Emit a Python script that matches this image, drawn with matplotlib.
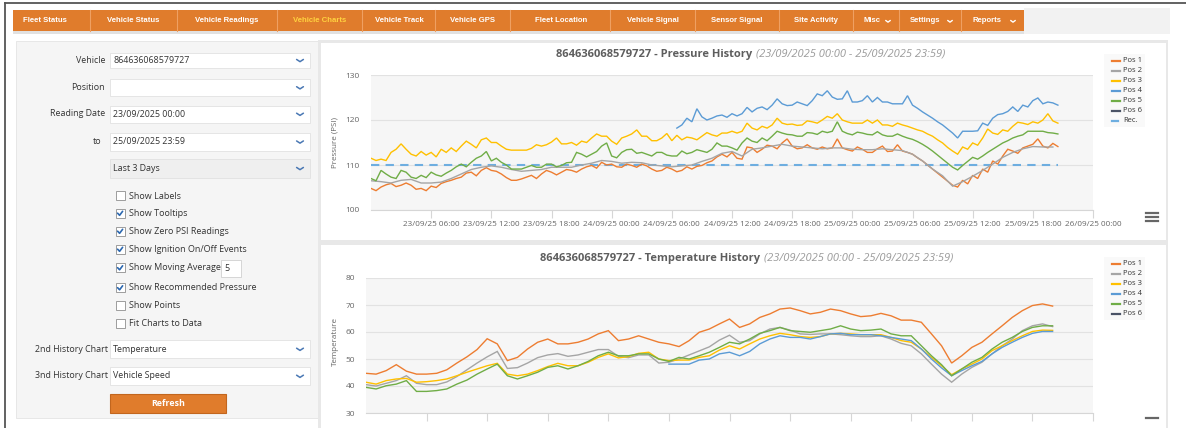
import numpy as np
import matplotlib
matplotlib.use("Agg")
import matplotlib.pyplot as plt
from matplotlib.patches import Rectangle

# ---------------- DATA ----------------
VEHICLE_ID = "864636068579727"
DATE_RANGE = "(23/09/2025 00:00 - 25/09/2025 23:59)"
SERIES_NAMES = ["Pos 1", "Pos 2", "Pos 3", "Pos 4", "Pos 5", "Pos 6"]
SERIES_COLORS = ["#ED7D31", "#A5A5A5", "#FFC000", "#5B9BD5", "#70AD47", "#4A5366"]
REC_NAME = "Rec."
REC_COLOR = "#6EAEE0"
REC_PRESSURE = 110

TICK_HOURS = [6, 12, 18, 24, 30, 36, 42, 48, 54, 60, 66, 72]
TICK_LABELS = ["23/09/25 06:00", "23/09/25 12:00", "23/09/25 18:00", "24/09/25 00:00",
               "24/09/25 06:00", "24/09/25 12:00", "24/09/25 18:00", "25/09/25 00:00",
               "25/09/25 06:00", "25/09/25 12:00", "25/09/25 18:00", "26/09/25 00:00"]

# Pressure (PSI), half-hourly readings starting 23/09 00:00 unless noted
P_POS1 = [104.8,104.3,105.1,105.6,105.9,105.2,105.5,106.0,105.5,104.6,
          104.8,104.3,105.3,105.0,105.9,106.3,106.6,107.0,107.3,108.2,
          108.4,107.6,108.8,109.4,108.8,108.6,108.0,107.2,106.6,106.6,
          106.9,107.3,107.7,107.0,108.0,108.8,108.4,107.8,108.4,109.0,
          108.8,108.4,109.1,109.6,109.9,109.3,110.6,110.0,110.2,109.6,
          109.5,110.2,109.9,109.5,110.2,109.8,109.1,108.6,108.8,109.5,
          109.1,108.5,108.8,109.6,109.1,109.7,109.9,110.5,110.9,111.8,
          112.4,111.8,112.8,111.5,111.3,114.0,113.8,112.8,113.5,114.4,
          114.2,113.6,114.9,115.8,114.2,113.6,113.8,114.5,113.8,113.5,
          114.0,113.6,113.8,115.8,113.8,113.4,113.1,114.0,113.5,112.8,
          112.8,113.6,114.2,113.0,113.1,114.5,113.1,112.8,112.4,111.6,
          110.9,110.0,109.1,108.2,107.3,106.4,105.5,105.1,106.6,105.8,
          107.7,107.0,109.1,108.4,110.9,110.2,112.0,113.5,113.1,112.6,
          113.8,114.2,114.6,115.8,114.2,113.8,114.8,114.1]
# Pos 2 hourly
P_POS2 = [106.5,106.3,106.0,106.6,106.8,106.0,106.0,106.2,107.0,108.0,
          109.0,109.5,109.8,109.5,109.0,108.6,108.8,109.0,109.5,109.5,
          109.5,110.0,110.4,111.0,110.8,110.4,110.6,110.5,110.0,109.8,
          109.6,109.8,110.0,110.8,111.5,112.6,113.0,112.0,113.5,113.8,
          114.2,114.6,114.2,114.0,113.8,113.6,113.8,113.8,113.5,113.4,
          113.4,113.6,113.4,113.2,112.4,110.9,109.1,107.6,105.3,106.3,
          107.5,108.8,110.2,111.7,112.8,113.6,114.1,114.0,114.0]
P_POS3 = [111.5,111.0,111.3,111.0,112.8,113.5,114.7,113.5,112.4,112.0,
          113.0,112.2,112.8,111.8,113.5,112.8,113.8,113.0,114.2,115.3,
          114.6,113.8,115.6,116.0,115.0,115.0,114.2,113.5,113.3,113.3,
          113.3,113.3,113.7,114.5,114.2,114.5,115.1,116.0,114.7,114.7,
          115.0,114.4,115.3,115.0,116.0,116.9,116.4,116.4,115.3,114.6,
          116.0,116.4,116.9,117.8,116.4,116.4,115.4,115.4,116.0,117.0,
          115.4,116.6,115.6,116.2,116.0,115.6,116.4,117.2,116.7,116.4,
          117.1,117.1,117.5,117.1,117.5,119.3,118.2,117.8,118.6,118.2,
          118.9,120.4,119.3,119.0,119.1,118.8,118.9,119.8,119.6,119.3,
          120.0,120.8,120.4,121.4,120.0,119.6,119.3,119.3,119.3,120.0,
          119.3,120.0,118.9,118.9,118.6,119.3,118.9,118.6,118.2,117.8,
          117.5,116.9,116.4,115.6,114.9,113.9,113.1,112.4,114.0,113.5,
          114.9,114.4,116.0,118.0,117.1,116.8,117.8,117.5,118.6,119.5,
          119.3,119.0,119.6,119.3,120.0,121.4,119.8,119.3]
# Pos 4 half-hourly starting 24/09 06:30
P_POS4_START = 30.5
P_POS4 = [118.2,
          118.9,120.4,119.6,122.5,120.7,120.0,120.4,120.9,121.1,120.6,
          121.4,120.9,121.4,122.8,121.8,122.6,122.9,122.3,123.3,124.7,
          123.6,123.2,123.3,124.0,123.6,123.2,124.3,125.8,125.4,126.5,
          125.1,124.6,124.7,126.5,124.0,124.0,124.3,125.4,124.0,125.0,
          124.0,124.0,123.6,123.6,123.6,125.4,123.3,122.6,121.8,121.1,
          120.4,119.6,118.9,118.0,117.1,116.0,117.5,117.5,117.5,117.6,
          119.3,118.8,120.4,121.2,121.4,121.9,122.9,121.9,123.3,122.9,
          124.3,124.9,123.6,124.0,123.8,123.3]
P_POS5 = [107.0,106.5,108.8,108.0,107.3,107.0,108.8,108.4,107.3,107.0,
          107.7,107.2,108.4,107.8,107.5,108.2,108.8,109.6,110.2,109.6,
          110.6,111.5,112.0,113.0,110.9,111.5,110.6,110.0,109.1,109.1,
          109.1,109.5,109.9,109.5,109.5,110.2,110.2,109.6,109.9,110.5,
          110.6,112.8,112.4,111.8,112.4,113.0,114.2,114.9,112.0,111.6,
          112.8,113.4,113.5,112.6,112.8,112.4,112.0,112.8,112.8,112.2,
          112.0,112.0,113.1,112.5,112.8,113.4,113.1,112.8,113.5,114.9,
          114.2,114.2,113.8,113.3,114.9,116.0,115.3,115.0,116.0,115.4,
          116.4,117.5,117.1,116.8,116.7,116.4,116.4,117.2,117.1,116.8,
          117.5,117.2,117.5,119.6,117.5,117.0,116.7,117.3,117.1,116.8,
          116.7,117.4,116.7,116.4,116.4,116.9,116.4,116.0,115.7,115.2,
          114.6,113.9,113.1,112.2,111.3,110.4,109.5,108.9,109.9,110.8,
          111.7,111.3,112.0,112.8,113.5,114.2,114.9,115.4,116.0,116.4,
          116.7,117.5,117.5,117.5,117.5,117.2,117.1,116.9]
P_POS6 = []

# Temperature, hourly readings starting 23/09 00:00 unless noted
T_POS1 = [44.7,44.4,45.7,47.9,45.5,44.4,44.4,44.7,46.0,48.5,
          50.8,53.5,57.5,55.6,49.4,50.6,53.7,56.2,57.4,55.6,
          55.6,56.2,57.4,59.3,60.5,56.8,57.4,58.6,57.4,56.2,
          55.6,54.6,56.8,59.9,61.1,63.0,64.8,61.7,63.0,65.4,
          66.7,68.5,68.9,67.9,66.7,67.3,68.5,67.9,66.7,65.7,
          66.0,66.9,66.0,64.4,64.4,63.6,59.3,54.9,48.5,51.2,
          54.3,56.2,59.3,62.3,65.4,67.9,69.8,70.4,69.6]
T_POS2 = [40.5,40.0,41.0,42.0,43.8,41.0,40.5,40.5,41.5,43.5,
          46.0,48.5,50.8,52.8,46.5,46.8,48.5,50.5,51.5,52.0,
          51.0,51.5,52.5,53.5,53.5,51.0,50.5,51.5,51.5,48.5,
          48.8,50.0,51.5,53.0,54.5,57.0,58.8,56.2,56.8,59.3,
          61.1,61.7,60.7,59.3,59.1,59.3,59.3,59.0,58.6,58.3,
          58.3,58.6,57.4,55.8,54.9,51.9,48.1,44.4,41.4,44.4,
          46.9,48.8,51.9,54.9,57.4,60.5,62.3,63.0,62.0]
T_POS3 = [41.4,40.7,42.0,42.6,42.8,41.4,41.6,42.0,42.6,43.8,
          45.1,46.3,47.5,48.4,44.4,43.8,44.4,45.7,47.2,48.4,
          47.5,47.5,48.8,50.6,51.9,50.4,50.9,52.1,52.5,50.0,
          49.4,49.6,49.6,50.6,51.2,53.3,54.9,53.7,55.6,57.4,
          58.6,59.5,59.0,58.3,58.0,58.3,59.3,59.5,59.3,59.0,
          59.0,59.0,58.0,56.8,56.2,53.7,50.6,47.5,44.2,46.3,
          48.1,50.0,53.1,54.9,56.8,58.6,60.2,60.7,60.6]
T_POS4_START = 30
T_POS4 = [48.1,48.1,48.1,49.6,50.0,51.9,52.5,51.2,52.8,55.6,
          57.4,58.6,58.0,58.0,57.4,58.3,59.3,59.5,59.0,59.0,
          59.0,58.6,58.0,57.4,56.8,53.7,50.0,46.7,43.8,45.7,
          47.5,49.1,51.9,54.3,56.2,58.0,59.5,60.2,60.2]
T_POS5 = [39.5,38.9,40.1,40.7,42.0,38.0,38.0,38.3,38.9,40.7,
          42.2,44.4,46.3,48.1,43.8,42.6,43.8,45.1,46.9,47.5,
          46.3,47.5,49.1,51.2,52.5,51.2,51.2,51.9,51.9,50.0,
          49.1,50.6,50.0,51.2,52.5,54.3,56.2,55.6,57.4,59.5,
          60.5,61.7,60.5,60.2,59.9,60.5,61.1,62.3,61.1,60.5,
          60.7,61.1,59.3,58.6,58.6,54.9,51.2,47.9,43.8,46.3,
          48.8,50.6,53.7,56.2,58.0,60.2,61.7,62.3,62.3]
T_POS6 = []

# (values, start hour, step hours)
PRESSURE_SERIES = [(P_POS1, 0, 0.5), (P_POS2, 0, 1.0), (P_POS3, 0, 0.5),
                   (P_POS4, P_POS4_START, 0.5), (P_POS5, 0, 0.5), (P_POS6, 0, 0.5)]
TEMP_SERIES = [(T_POS1, 0, 1.0), (T_POS2, 0, 1.0), (T_POS3, 0, 1.0),
               (T_POS4, T_POS4_START, 1.0), (T_POS5, 0, 1.0), (T_POS6, 0, 1.0)]

NAV_TABS = ["Fleet Status", "Vehicle Status", "Vehicle Readings", "Vehicle Charts",
            "Vehicle Track", "Vehicle GPS", "Fleet Location", "Vehicle Signal",
            "Sensor Signal", "Site Activity", "Misc", "Settings", "Reports"]

# ---------------- FIGURE ----------------
W, H = 1186, 428
fig = plt.figure(figsize=(W / 100, H / 100), dpi=100)
fig.patch.set_facecolor("white")
bg = fig.add_axes([0, 0, 1, 1])
bg.set_xlim(0, W)
bg.set_ylim(H, 0)
bg.axis("off")
bg.set_zorder(0)

UI = "Open Sans"
NAVF = "Liberation Sans"


def rect(x0, y0, x1, y1, fc, ec="none", lw=0.0, z=1, alpha=1.0):
    bg.add_patch(Rectangle((x0, y0), x1 - x0, y1 - y0, facecolor=fc, edgecolor=ec,
                           linewidth=lw, zorder=z, alpha=alpha))


def txt(x, y, s, size=6.5, color="#333333", ha="left", family=UI, **kw):
    bg.text(x, y, s, fontsize=size, color=color, ha=ha, va="center", family=family, **kw)


def chevron(x, y, color="#4A78B4", w=3.4, h=2.2, lw=1.1, z=5):
    bg.plot([x - w, x, x + w], [y - h / 2, y + h / 2, y - h / 2], color=color, lw=lw,
            solid_capstyle="round", solid_joinstyle="round", zorder=z)


def fpos(x0, y0, x1, y1):
    return [x0 / W, 1 - y1 / H, (x1 - x0) / W, (y1 - y0) / H]


# outer frame
bg.plot([5, 5], [3, H], color="#555555", lw=1.3, zorder=10)
bg.plot([5, W], [3, 3], color="#555555", lw=1.3, zorder=10)

# nav bar
rect(1024, 8, 1170, 34, "#F2F2F2", z=1)
rect(13, 31, 1024, 34, "#D5D5D5", z=1, alpha=0.7)
rect(13, 10, 1024, 31, "#E07C2C", z=2)
bounds = [13, 90, 177, 277, 362, 435, 510, 610, 695, 779, 853, 899, 961, 1024]
centers = [45, 133, 227, 319.5, 399, 472, 561, 653, 737, 816, 872, 925, 987]
for b in bounds[1:-1]:
    bg.plot([b, b], [10, 31], color="#EFA062", lw=0.8, zorder=3)
for i, (name, cx) in enumerate(zip(NAV_TABS, centers)):
    col = "#FFD23F" if name == "Vehicle Charts" else "white"
    txt(cx, 20.5, name, size=5.6, color=col, ha="center", family=NAVF, weight="bold", zorder=4)
    if name in ("Misc", "Settings", "Reports"):
        chevron(bounds[i + 1] - 11, 21.3, color="white", w=2.3, h=1.7, lw=1.0)

# left panel
rect(16, 41, 318, 418, "#F5F5F5", ec="#E4E4E4", lw=0.6, z=1)


def inputbox(y0, y1, value, fc="white"):
    rect(110, y0, 310, y1, fc, ec="#E1E1E1", lw=0.6, z=2)
    if value:
        txt(113, (y0 + y1) / 2, value, size=6.4, color="#333333", zorder=3)
    chevron(300, (y0 + y1) / 2 + 0.3)


txt(105, 60, "Vehicle", size=6.4, ha="right")
inputbox(53, 67.5, VEHICLE_ID)
txt(105, 87.5, "Position", size=6.4, ha="right")
inputbox(79, 96, "")
txt(105, 113.8, "Reading Date", size=6.4, ha="right")
inputbox(105.5, 122.5, "23/09/2025 00:00")
txt(101, 141.5, "to", size=6.4, ha="right")
inputbox(133, 150.5, "25/09/2025 23:59")
inputbox(159, 177.5, "Last 3 Days", fc="#EFEFEF")

checks = [("Show Labels", 196, False), ("Show Tooltips", 213.5, True),
          ("Show Zero PSI Readings", 231.5, True), ("Show Ignition On/Off Events", 249.5, True),
          ("Show Moving Average", 268, True), ("Show Recommended Pressure", 288, True),
          ("Show Points", 306, False), ("Fit Charts to Data", 323.5, False)]
for label, y, on in checks:
    rect(115.5, y - 4.7, 124.5, y + 4.3, "white", ec="#8E8E8E", lw=0.6, z=3)
    if on:
        bg.plot([117.6, 119.6, 122.6], [y - 0.3, y + 1.8, y - 2.2], color="#2C68B0", lw=1.2,
                zorder=4, solid_capstyle="round")
    txt(129, y, label, size=6.5)
rect(220.5, 260, 240.5, 277, "white", ec="#CFCFCF", lw=0.6, z=3)
txt(224, 268.3, "5", size=6.4)

txt(108, 349, "2nd History Chart", size=6.4, ha="right")
inputbox(340, 358, "Temperature")
txt(108, 376, "3nd History Chart", size=6.4, ha="right")
inputbox(367, 385, "Vehicle Speed")
rect(110, 394, 226, 413, "#E07C2C", ec="#C2661E", lw=0.8, z=3)
txt(168, 403.5, "Refresh", size=6.4, color="white", ha="center", weight="bold", zorder=4)

# chart containers
rect(318, 40, 1168, H, "#E8E8E8", z=1)
rect(321, 43, 1166, 239.5, "white", z=2)
rect(321, 244.5, 1166, H + 2, "white", z=2)


def titles(y, mid, name):
    txt(mid, y, f"{VEHICLE_ID} - {name} History", size=8, color="#5E5E5E", ha="right",
        weight="bold", zorder=3)
    txt(mid + 4, y, DATE_RANGE, size=8, color="#9B9B9B", ha="left", style="italic", zorder=3)


titles(54, 752, "Pressure")
titles(258, 760, "Temperature")

txt(335, 142, "Pressure (PSI)", size=5.8, color="#666666", ha="center", rotation=90, zorder=3)
txt(335, 341, "Temperature", size=5.8, color="#666666", ha="center", rotation=90, zorder=3)


def legend(y0, with_rec):
    n = len(SERIES_NAMES) + (1 if with_rec else 0)
    rect(1104, y0 - 7, 1145, y0 + 10 * (n - 1) + 6, "#F9F9F9", z=2)
    for i, (nm, c) in enumerate(zip(SERIES_NAMES, SERIES_COLORS)):
        y = y0 + 10 * i
        bg.plot([1112, 1120], [y, y], color=c, lw=1.6, zorder=4)
        txt(1123, y, nm, size=5.5, color="#333333", zorder=4)
    if with_rec:
        y = y0 + 10 * len(SERIES_NAMES)
        bg.plot([1112, 1118], [y, y], color=REC_COLOR, lw=1.6, zorder=4)
        txt(1123, y, REC_NAME, size=5.5, color="#333333", zorder=4)


legend(60.5, True)
legend(263.5, False)

# hamburger menus
for yy in (213, 217, 221):
    bg.plot([1146, 1158], [yy, yy], color="#666666", lw=1.6, zorder=4)
bg.plot([1146, 1158], [417.5, 417.5], color="#666666", lw=1.6, zorder=4)


def chart(box, ylim, yticks, series, rec=None, show_xlabels=True):
    ax = fig.add_axes(fpos(*box))
    ax.set_zorder(2)
    ax.set_facecolor("#F6F6F6")
    for k in ("top", "right", "left"):
        ax.spines[k].set_visible(False)
    ax.spines["bottom"].set_color("#D6D6D6")
    ax.spines["bottom"].set_linewidth(0.8)
    ax.set_xlim(0, 72)
    ax.set_ylim(*ylim)
    ax.set_yticks(yticks)
    ax.set_yticklabels([str(v) for v in yticks], family=UI)
    ax.grid(axis="y", color="#E2E2E2", lw=0.8)
    ax.set_axisbelow(True)
    ax.tick_params(axis="y", length=0, pad=8, labelsize=6, labelcolor="#666666")
    ax.set_xticks(TICK_HOURS)
    ax.set_xticklabels(TICK_LABELS, family=UI)
    ax.tick_params(axis="x", length=6, width=0.8, color="#D6D6D6", pad=2, labelsize=5.9,
                   labelcolor="#666666", labelbottom=show_xlabels)
    end = 0
    for (vals, start, step), c in zip(series, SERIES_COLORS):
        if len(vals) == 0:
            continue
        hrs = start + step * np.arange(len(vals))
        end = max(end, hrs[-1])
        ax.plot(hrs, vals, color=c, lw=1.0, solid_joinstyle="miter", zorder=3)
    if rec is not None:
        ax.plot([0, end], [rec, rec], color=REC_COLOR, lw=1.5, ls=(0, (4, 3)), zorder=2)
    return ax


chart((371, 75, 1093, 210), (100, 130), [100, 110, 120, 130], PRESSURE_SERIES, rec=REC_PRESSURE)
# the temperature chart's time labels fall below the visible area of the screenshot
chart((366, 278, 1093, 413), (30, 80), [30, 40, 50, 60, 70, 80], TEMP_SERIES, show_xlabels=False)

fig.savefig("out.png", dpi=100)
